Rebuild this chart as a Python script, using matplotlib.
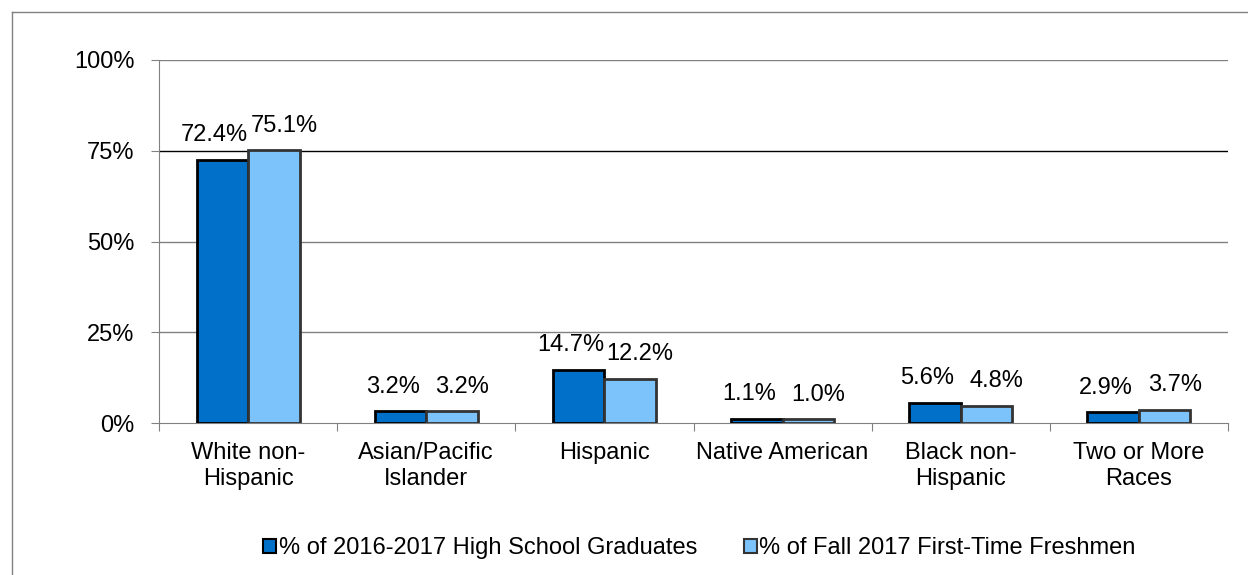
import matplotlib
matplotlib.use("Agg")
import matplotlib.pyplot as plt
import numpy as np
from matplotlib.lines import Line2D
from matplotlib.patches import Patch

plt.rcParams['font.family'] = ['Liberation Sans', 'DejaVu Sans']

categories = ["White non-\nHispanic", "Asian/Pacific\nIslander", "Hispanic",
              "Native American", "Black non-\nHispanic", "Two or More\nRaces"]
hs_grads = [72.4, 3.2, 14.7, 1.1, 5.6, 2.9]
freshmen = [75.1, 3.2, 12.2, 1.0, 4.8, 3.7]
series_names = ["% of 2016-2017 High School Graduates", "% of Fall 2017 First-Time Freshmen"]
yticks = [0, 25, 50, 75, 100]
ytick_labels = ["0%", "25%", "50%", "75%", "100%"]

W, H = 1248, 575
dpi = 100
fig = plt.figure(figsize=(W / dpi, H / dpi), dpi=dpi)

# outer frame (left and top edges visible)
fig.add_artist(Line2D([11.5 / W, 11.5 / W], [0, 1 - 11.5 / H], transform=fig.transFigure, color="#808080", lw=1))
fig.add_artist(Line2D([11.5 / W, 1], [1 - 11.5 / H, 1 - 11.5 / H], transform=fig.transFigure, color="#808080", lw=1))

left, right, top, bottom = 159, 1228, 60, 423
ax = fig.add_axes([left / W, 1 - bottom / H, (right - left) / W, (bottom - top) / H])

x = np.arange(len(categories))
bw = 0.289
fs = 17
ax.bar(x - bw / 2, hs_grads, bw, color="#0070C8", edgecolor="#000000", linewidth=2, zorder=3)
ax.bar(x + bw / 2, freshmen, bw, color="#7CC3FC", edgecolor="#333333", linewidth=2, zorder=3)

for xi, v in zip(x, hs_grads):
    ax.annotate(f"{v:.1f}%", (xi - bw / 2, v), xytext=(-5.6, 9.9), textcoords="offset points",
                ha="center", va="bottom", fontsize=fs)
for xi, v in zip(x, freshmen):
    ax.annotate(f"{v:.1f}%", (xi + bw / 2, v), xytext=(7.2, 9.9), textcoords="offset points",
                ha="center", va="bottom", fontsize=fs)

ax.set_xlim(-0.5, len(categories) - 0.5)
ax.set_ylim(0, 100)
ax.set_yticks(yticks)
ax.set_yticklabels(ytick_labels, fontsize=fs)
for t in yticks[1:]:
    ax.axhline(t, color="#000000" if t == 75 else "#808080", lw=1, zorder=1)

ax.set_xticks(np.arange(len(categories) + 1) - 0.5, minor=False)
ax.set_xticklabels([])
ax.set_xticks(x, minor=True)
ax.set_xticklabels(categories, minor=True, fontsize=fs, linespacing=1.2)
ax.tick_params(axis="x", which="minor", length=0, pad=14)
ax.tick_params(axis="x", which="major", length=6, direction="out", color="#808080")
ax.tick_params(axis="y", length=6, direction="out", color="#808080", pad=11.5)

for s in ["top", "right"]:
    ax.spines[s].set_visible(False)
ax.spines["left"].set_color("#808080")
ax.spines["bottom"].set_color("#808080")

handles = [Patch(facecolor="#0070C8", edgecolor="#000000", linewidth=1.5),
           Patch(facecolor="#7CC3FC", edgecolor="#333333", linewidth=1.5)]
fig.legend(handles, series_names, loc="center", bbox_to_anchor=(699.5 / W, 1 - 548 / H), ncol=2,
           frameon=False, fontsize=fs, handlelength=0.55, handleheight=0.55, handletextpad=0.12,
           columnspacing=1.95, borderpad=0, borderaxespad=0)

fig.savefig("out.png", dpi=dpi)
